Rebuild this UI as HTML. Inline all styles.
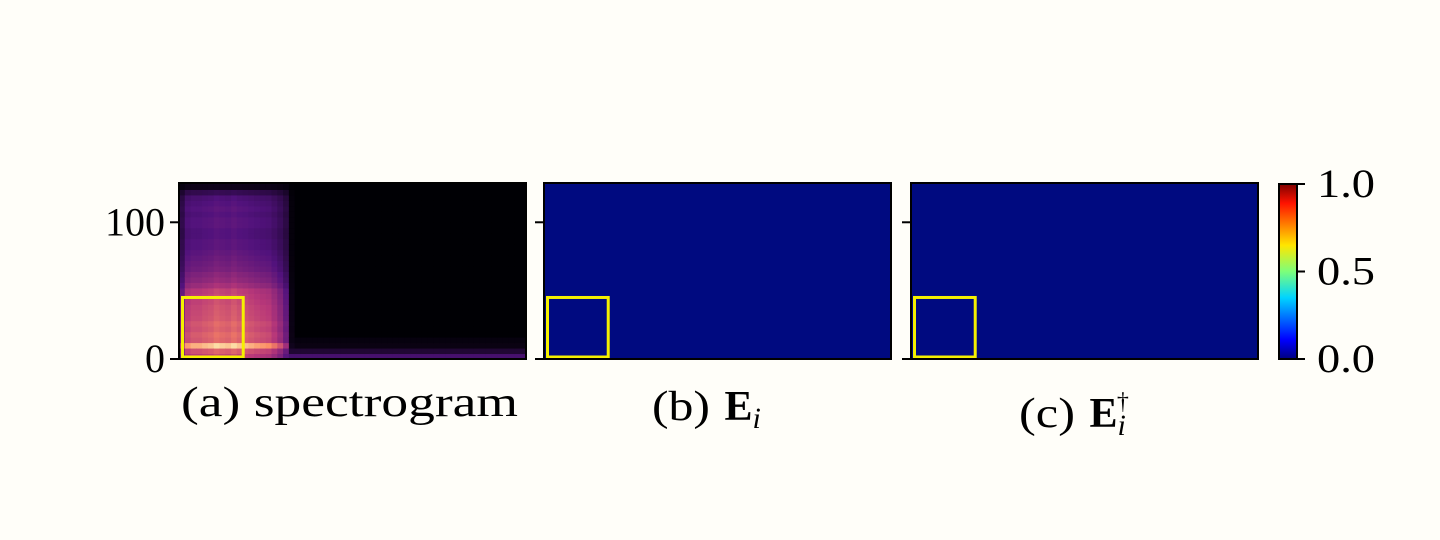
<!DOCTYPE html>
<html><head><meta charset="utf-8"><style>
html,body{margin:0;padding:0;background:#fffef9;}
svg{display:block;font-family:"Liberation Serif","DejaVu Serif",serif;}
</style></head><body>
<svg id="fig" width="1440" height="540" viewBox="0 0 1440 540">
<rect x="0" y="0" width="1440" height="540" fill="#fffef9"/>
<defs>
<linearGradient id="jet" x1="0" y1="1" x2="0" y2="0">
<stop offset="0" stop-color="#00007f"/><stop offset="0.11" stop-color="#0000ff"/>
<stop offset="0.35" stop-color="#00d4ff"/><stop offset="0.5" stop-color="#7dff7a"/>
<stop offset="0.65" stop-color="#ffe600"/><stop offset="0.89" stop-color="#ff1300"/>
<stop offset="1" stop-color="#7f0000"/></linearGradient>
</defs>
<g id="panelA"></g>
<g id="panelB"></g>
<g id="panelC"></g>
<g id="cbar"></g>
<text x="181" y="416" font-size="42" textLength="337" lengthAdjust="spacingAndGlyphs">(a) spectrogram</text>
<text x="652" y="420" font-size="42"><tspan textLength="58" lengthAdjust="spacingAndGlyphs">(b)</tspan> <tspan font-weight="bold" dx="4">E</tspan><tspan font-style="italic" font-size="30" dy="8">i</tspan></text>
<text x="1019" y="427" font-size="42"><tspan textLength="56" lengthAdjust="spacingAndGlyphs">(c)</tspan> <tspan font-weight="bold" dx="4">E</tspan><tspan font-style="italic" font-size="30" dy="8">i</tspan><tspan font-size="24" dx="-9" dy="-26">†</tspan></text>
</svg>
<script>
const NS="http://www.w3.org/2000/svg";
const yTicks=[0,100];
const yMax=128;
const xMax=60;
const cbarTicks=[0,0.5,1.0];
const cbarLabels=["0.0","0.5","1.0"];
const boxRange=[0,10.5,0,45];
// spectrogram: column envelope (60 time bins) and frequency profile (32 bands of 4)
const envelope=[0.5,0.8,0.85,0.85,0.88,0.9,0.95,0.92,0.9,0.95,0.9,0.88,0.85,0.82,0.8,0.78,0.7,0.6,0.45,0.05,0,0,0,0,0,0,0,0,0,0,0,0,0,0,0,0,0,0,0,0,0,0,0,0,0,0,0,0,0,0,0,0,0,0,0,0,0,0,0,0];
const freqProfile=[0.6,0.68,0.98,0.7,0.72,0.68,0.7,0.66,0.65,0.64,0.62,0.6,0.58,0.5,0.45,0.42,0.38,0.36,0.34,0.32,0.3,0.3,0.28,0.28,0.3,0.3,0.28,0.3,0.28,0.26,0.18,0.05];
const floorProfile=[0.22,0.1,0.03,0.02,0,0,0,0,0,0,0,0,0,0,0,0,0,0,0,0,0,0,0,0,0,0,0,0,0,0,0,0];
const panels=[{id:"panelA",x:179},{id:"panelB",x:544},{id:"panelC",x:911}];
const PW=347,PT=184,PB=359;
function yS(v){return PB-(v/yMax)*(PB-PT);}
function xS(px,v){return px+(v/xMax)*PW;}
const magma=[[0,0,4],[81,18,124],[183,55,121],[252,137,97],[252,253,191]];
function mag(t){t=Math.max(0,Math.min(1,t));const s=t*4,i=Math.min(3,Math.floor(s)),f=s-i,a=magma[i],b=magma[i+1];
return `rgb(${Math.round(a[0]+(b[0]-a[0])*f)},${Math.round(a[1]+(b[1]-a[1])*f)},${Math.round(a[2]+(b[2]-a[2])*f)})`;}
function mk(tag,attrs,parent){const e=document.createElementNS(NS,tag);for(const k in attrs)e.setAttribute(k,attrs[k]);parent.appendChild(e);return e;}
panels.forEach((p,pi)=>{
 const g=document.getElementById(p.id);
 if(pi===0){
  mk("rect",{x:p.x,y:PT,width:PW,height:PB-PT,fill:"#000004"},g);
  envelope.forEach((e,c)=>{freqProfile.forEach((f,b)=>{
   const v=Math.max(e*f,floorProfile[b]);
   const r=mk("rect",{x:xS(p.x,c),y:yS((b+1)*4),width:PW/xMax+0.5,height:(PB-PT)/32+0.5,fill:mag(v)},g);
   
   
  });});
 }else{
  const r=mk("rect",{x:p.x,y:PT,width:PW,height:PB-PT,fill:"#000a80"},g);
  
  
 }
 const box=mk("rect",{x:xS(p.x,boxRange[0])+3.5,y:yS(boxRange[3]),width:xS(p.x,boxRange[1])-xS(p.x,boxRange[0]),height:yS(boxRange[2])-yS(boxRange[3])-2,fill:"none",stroke:"#f5f000","stroke-width":3},g);
 
 
 const fr=mk("rect",{x:p.x,y:PT-1,width:PW,height:PB-PT+1,fill:"none",stroke:"#000","stroke-width":2},g);
 
 
 yTicks.forEach(t=>{
  const l=mk("line",{x1:p.x-9,x2:p.x,y1:yS(t),y2:yS(t),stroke:"#000","stroke-width":2},g);
  
  
  if(pi===0){const tx=mk("text",{x:p.x-14,y:yS(t)+13,"font-size":40,"text-anchor":"end"},g);tx.textContent=String(t);
   
   }
 });
});
const cb=document.getElementById("cbar");
const CX=1279,CW=18,CT=184,CB=359;
const cr=mk("rect",{x:CX,y:CT,width:CW,height:CB-CT,fill:"url(#jet)",stroke:"#000","stroke-width":2},cb);


cbarTicks.forEach((t,i)=>{const y=CB-t*(CB-CT);
 const l=mk("line",{x1:CX+CW,x2:CX+CW+8,y1:y,y2:y,stroke:"#000","stroke-width":2},cb);
 
 
 const tx=mk("text",{x:CX+CW+20,y:y+13,"font-size":40,textLength:58,lengthAdjust:"spacingAndGlyphs"},cb);tx.textContent=cbarLabels[i];
 
 
});
</script>
</body></html>
